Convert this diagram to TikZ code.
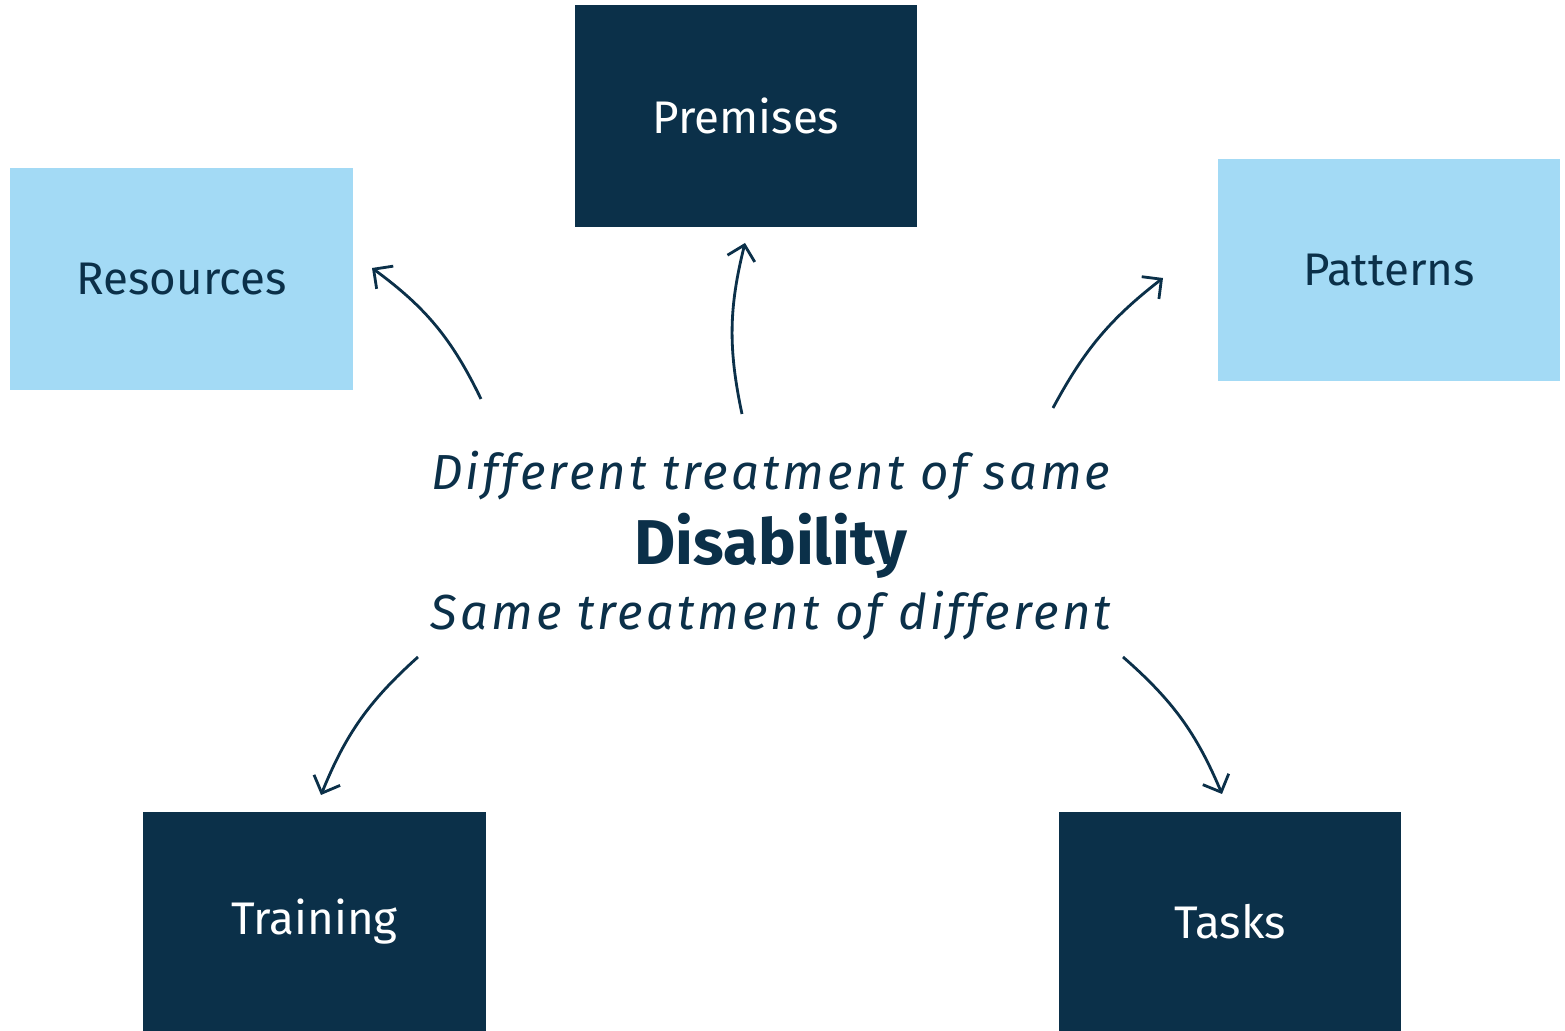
\documentclass[tikz,border=0pt]{standalone}
\usepackage{fontspec}
\setmainfont{Fira Sans}
\usetikzlibrary{arrows.meta}
\definecolor{navy}{HTML}{0B3049}
\definecolor{sky}{HTML}{A3DAF5}

\begin{document}
\begin{tikzpicture}[
    x=0.01cm, y=-0.01cm,
    node distance=0.7cm,
    darkbox/.style={rectangle, fill=navy, text=white, minimum width=3.42cm, minimum height=2.22cm, font=\fontsize{13}{16}\selectfont},
    lightbox/.style={rectangle, fill=sky, text=navy, minimum width=3.42cm, minimum height=2.22cm, font=\fontsize{13}{16}\selectfont},
    slant/.style={text=navy, font=\fontsize{14}{16}\selectfont\itshape\addfontfeature{LetterSpace=6}},
    arr/.style={draw=navy, line width=0.8pt, -{Straight Barb[length=4pt, width=8pt]}}
]
\useasboundingbox (0,0) rectangle (1565,1031);

% Boxes round the centre
\node[darkbox] (premises) at (746,116) {Premises};
\node[lightbox] (resources) at (181.5,279) {Resources};
\node[lightbox] (patterns) at (1389,270) {Patterns};
\node[darkbox, minimum height=2.19cm] (training) at (314.5,922) {Training};
\node[darkbox, minimum height=2.19cm] (tasks) at (1230,922) {Tasks};

% Centre text
\node[text=navy, font=\fontsize{18}{21}\selectfont\bfseries] (disab) at (771,546) {Disability};
\node[slant, above of=disab] (difftreat) {Different treatment of same};
\node[slant, below of=disab] (sametreat) {Same treatment of different};

% Arrow ends
\coordinate (resT) at (481,399);
\coordinate (resH) at (372,268);
\coordinate (preT) at (742,414);
\coordinate (preH) at (745,243);
\coordinate (patT) at (1053,408);
\coordinate (patH) at (1163,278);
\coordinate (traT) at (418,657);
\coordinate (traH) at (321,795);
\coordinate (tasT) at (1123,657);
\coordinate (tasH) at (1222,794);

\draw[arr] (resT) to[bend right=14] (resH);
\draw[arr] (preT) to[bend left=13] (preH);
\draw[arr] (patT) to[bend left=12] (patH);
\draw[arr] (traT) to[bend right=13] (traH);
\draw[arr] (tasT) to[bend left=13] (tasH);

\end{tikzpicture}
\end{document}
